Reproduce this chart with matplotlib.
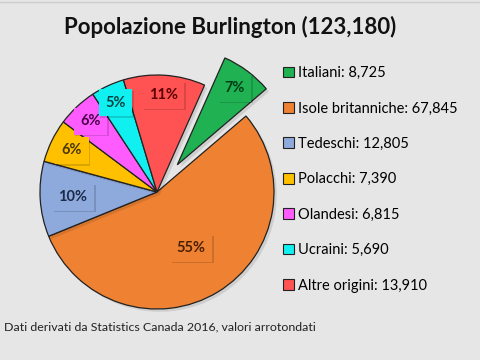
import numpy as np
import matplotlib
matplotlib.use("Agg")
import matplotlib.pyplot as plt
import matplotlib.patheffects as pe
from matplotlib.patches import Patch
from matplotlib.lines import Line2D

plt.rcParams['font.family'] = ['Lato', 'DejaVu Sans']

# data
gruppi = ['Italiani', 'Isole britanniche', 'Tedeschi', 'Polacchi',
          'Olandesi', 'Ucraini', 'Altre origini']
popolazione = [8725, 67845, 12805, 7390, 6815, 5690, 13910]
totale = 123180

colori = ['#1fb152', '#ee8232', '#8eaadc', '#ffc000', '#ff5cff', '#10f0f0', '#ff5353']
colori_testo = ['#003d17', '#4a1f00', '#1d2b4a', '#4a3800', '#4a004a', '#004444', '#5a0000']
explode = [0.29, 0, 0, 0, 0, 0, 0]
dist_label = [0.82, 0.56, 0.72, 0.81, 0.83, 0.84, 0.83]

bg = '#e6e6e6'
fig = plt.figure(figsize=(4.8, 3.6), dpi=100, facecolor=bg)

# pie axes: centre ~ (157,192) px, radius ~117 px
cx, cy, r = 157, 192, 117
ax = fig.add_axes([(cx - r) / 480, (360 - cy - r) / 360, 2 * r / 480, 2 * r / 360])
ax.set_facecolor(bg)

wedges, _ = ax.pie(popolazione, colors=colori, startangle=66, counterclock=False,
                   explode=explode, radius=1,
                   wedgeprops=dict(edgecolor='#222222', linewidth=0.9))
for w in wedges:
    w.set_clip_on(False)
    w.set_path_effects([pe.SimplePatchShadow(offset=(2, -2), shadow_rgbFace='#000000', alpha=0.1),
                        pe.Normal()])

for i, w in enumerate(wedges):
    ang = np.deg2rad((w.theta1 + w.theta2) / 2)
    d = dist_label[i] + explode[i]
    pct = popolazione[i] / sum(popolazione) * 100
    t = ax.text(d * np.cos(ang), d * np.sin(ang), f'{pct:.0f}%',
                ha='center', va='center', fontsize=10.5, fontweight='bold',
                color=colori_testo[i],
                bbox=dict(boxstyle='square,pad=0.45', facecolor=colori[i],
                          edgecolor='none'))
    t.get_bbox_patch().set_path_effects([
        pe.SimplePatchShadow(offset=(1.2, -1.2), shadow_rgbFace='#000000', alpha=0.15),
        pe.Normal()])

ax.set_xlim(-1, 1)
ax.set_ylim(-1, 1)
ax.set_aspect('equal')
ax.axis('off')

# legend
handles = [Patch(facecolor=c, edgecolor='#222222', linewidth=0.8) for c in colori]
labels = [f'{g}: {p:,}' for g, p in zip(gruppi, popolazione)]
fig.legend(handles, labels, loc='upper left', bbox_to_anchor=(283 / 480, 1 - 66 / 360),
           frameon=False, fontsize=10.5, handlelength=0.75, handleheight=0.75,
           handletextpad=0.3, labelspacing=1.47, borderaxespad=0, borderpad=0)

fig.text(230 / 480, 1 - 27 / 360, f'Popolazione Burlington ({totale:,})',
         ha='center', va='center', fontsize=16, fontweight='bold', color='#111111')
fig.text(4 / 480, 1 - 327 / 360, 'Dati derivati da Statistics Canada 2016, valori arrotondati',
         ha='left', va='center', fontsize=8.9, color='#222222')

fig.add_artist(Line2D([0, 1], [1 - 2 / 360, 1 - 2 / 360], color='#cccccc', linewidth=1))

fig.savefig('out.png', dpi=100, facecolor=bg)
